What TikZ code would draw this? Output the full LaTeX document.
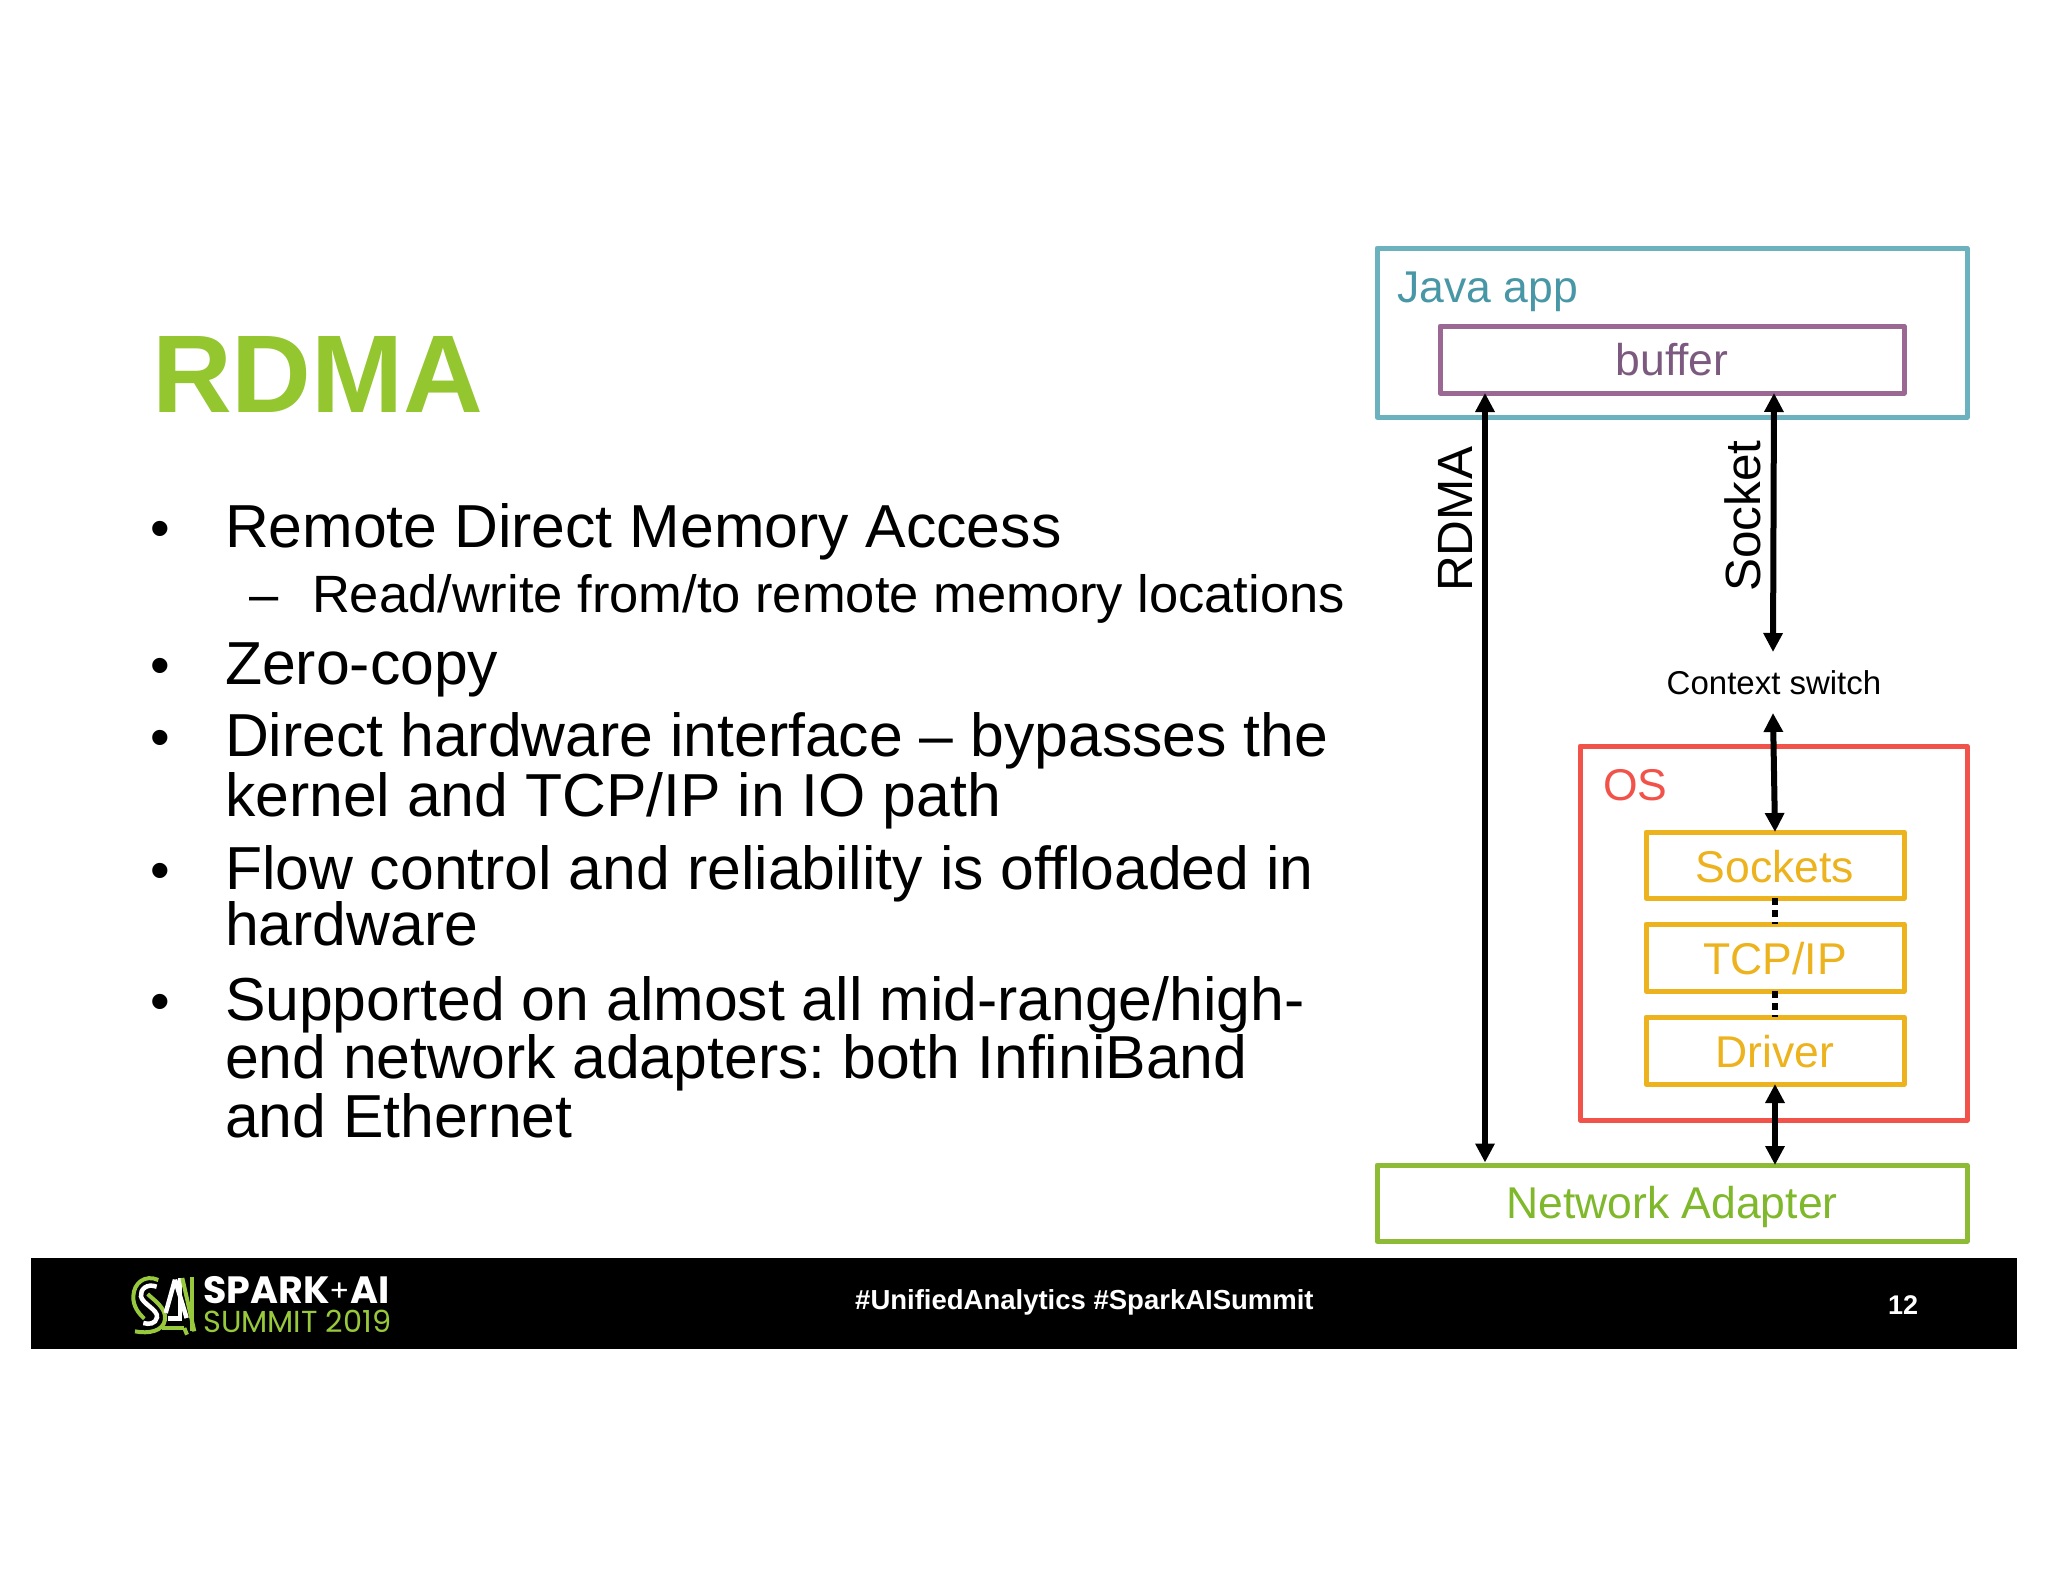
\documentclass[tikz,border=0pt]{standalone}
\usepackage{fontspec}
\setmainfont{Liberation Sans}
\newfontfamily\logofont{Poppins}
\usetikzlibrary{arrows.meta}
\definecolor{tealbox}{HTML}{6BB1BE}
\definecolor{tealtxt}{HTML}{4797A6}
\definecolor{purpbox}{HTML}{9B6894}
\definecolor{purptxt}{HTML}{7C5A80}
\definecolor{redbox}{HTML}{F1524A}
\definecolor{yelbox}{HTML}{EDB31E}
\definecolor{grnbox}{HTML}{8DBB36}
\definecolor{grntxt}{HTML}{80B82C}
\definecolor{titlegrn}{HTML}{93C62F}
\definecolor{logogrn}{HTML}{98C93C}
\newcommand{\fs}[1]{\fontsize{#1}{#1}\selectfont}
\newcommand{\boxtxt}[2]{\raisebox{-#1pt}[0pt][0pt]{\fs{44.5}#2}}
\frenchspacing
\tikzset{
  x=1pt,y=-1pt,
  box/.style={draw=#1,rectangle,line width=5pt,line join=round,inner sep=0pt,outer sep=0pt,anchor=north west,align=center},
  bodytext/.style={anchor=base west,inner sep=0pt,outer sep=0pt,text=black},
  bullettext/.style={bodytext,font=\fs{60.7}},
  subtext/.style={bodytext,font=\fs{52.5}},
  bi/.style={draw=black,line width=6pt,{Triangle[length=19pt,width=18.5pt]}-{Triangle[length=19pt,width=18.5pt]}},
  dots/.style={draw=black,line width=6pt,dash pattern=on 7pt off 5pt},
  logoG/.style={draw=logogrn,line width=4pt,line cap=butt},
  logoW/.style={draw=white,line width=4.5pt,line cap=butt},
}
\begin{document}
\begin{tikzpicture}
\useasboundingbox[fill=white] (0,0) rectangle (2048,1582);
% footer
\fill[black] (31,1258) rectangle (2017,1349);
% title
\node[bodytext,font=\fs{110.5}\bfseries,text=titlegrn] (title) at (152,412) {RDMA};
% bullets
\node[bodytext,font=\fs{56}] (b1) at (150,547) {•};
\node[bullettext] (t1) at (225,547.5) {Remote Direct Memory Access};
\node[subtext] (d1) at (249,612) {–};
\node[subtext] (t2) at (312,612) {Read/write from/to remote memory locations};
\node[bodytext,font=\fs{56}] (b2) at (150,684) {•};
\node[bullettext] (t3) at (225,684.5) {Zero-copy};
\node[bodytext,font=\fs{56}] (b3) at (150,756) {•};
\node[bullettext] (t4) at (225,756.5) {Direct hardware interface – bypasses the};
\node[bullettext] (t5) at (225,816.5) {kernel and TCP/IP in IO path};
\node[bodytext,font=\fs{56}] (b4) at (150,889) {•};
\node[bullettext] (t6) at (225,889) {Flow control and reliability is offloaded in};
\node[bullettext] (t7) at (225,945) {hardware};
\node[bodytext,font=\fs{56}] (b5) at (150,1020) {•};
\node[bullettext] (t8) at (225,1020.5) {Supported on almost all mid-range/high-};
\node[bullettext] (t9) at (225,1078) {end network adapters: both InfiniBand};
\node[bullettext] (t10) at (225,1137) {and Ethernet};
% boxes
\node[box=tealbox,minimum width=590pt,minimum height=169pt] (java) at (1377,248) {};
\node[anchor=base west,inner sep=0pt,text=tealtxt,font=\fs{44.5}] (javal) at (1397,302) {Java app};
\node[box=purpbox,minimum width=464pt,minimum height=67pt,text=purptxt] (buffer) at (1440,326) {\boxtxt{16}{buffer}};
\node[box=redbox,minimum width=387pt,minimum height=374pt] (os) at (1580,746) {};
\node[anchor=base west,inner sep=0pt,text=redbox,font=\fs{44.5}] (osl) at (1603,800) {OS};
\node[box=yelbox,minimum width=258pt,minimum height=66pt,text=yelbox] (sockets) at (1646,832) {\boxtxt{17}{Sockets}};
\node[box=yelbox,minimum width=258pt,minimum height=67pt,text=yelbox] (tcp) at (1646,924) {\boxtxt{17}{TCP/IP}};
\node[box=yelbox,minimum width=258pt,minimum height=67pt,text=yelbox] (driver) at (1646,1017) {\boxtxt{17}{Driver}};
\node[box=grnbox,minimum width=590pt,minimum height=76pt,text=grntxt] (net) at (1377,1165) {\boxtxt{15.5}{Network Adapter}};
\node[inner sep=0pt,font=\fs{33}] (ctx) at (1774,683) {Context switch};
% connector columns
\coordinate (rx) at (1485,0);
\coordinate (sx) at (1774,0);
\coordinate (sctop) at (1773,652);
\coordinate (scbot) at (1773,713);
\draw[dots] (sockets.south) -- (tcp.north);
\draw[dots] (tcp.south) -- (driver.north);
\draw[bi] (buffer.south -| rx) -- ([yshift=2.5pt]net.north -| rx);
\draw[bi] (buffer.south -| sx) -- (sctop);
\draw[bi] (scbot) -- (sockets.north);
\draw[bi] (driver.south) -- (net.north -| driver.south);
% rotated labels
\node[rotate=90,anchor=base west,inner sep=0pt,font=\fs{49.5}] (rl) at (1472,592) {RDMA};
\node[rotate=90,anchor=base west,inner sep=0pt,font=\fs{49.5}] (sl) at (1760,592) {Socket};
% footer text
\node[inner sep=0pt,anchor=base west,text=white,font=\fs{27.5}\bfseries] (tags) at (855,1309) {\#UnifiedAnalytics \#SparkAISummit};
\node[inner sep=0pt,text=white,font=\fs{27}\bfseries] (page) at (1903,1305) {12};
% logo
\begin{scope}[shift={(125,1268)},x=0.3333pt,y=-0.3333pt]
\draw[logoG] (100,36) .. controls (60,18) and (26,45) .. (25,85) .. controls (24,115) and (40,135) .. (58,152);
\draw[logoG] (68,78) .. controls (85,95) and (125,120) .. (120,155) .. controls (115,190) and (70,198) .. (30,190);
\draw[logoW] (95,56) .. controls (65,45) and (45,65) .. (48,85) .. controls (52,108) and (100,125) .. (96,148) .. controls (92,168) and (72,170) .. (55,165);
\draw[logoW] (150,35) -- (122,135);
\draw[logoW] (165,30) -- (165,150);
\draw[logoW] (150,35) -- (185,150);
\draw[logoW] (128,152) -- (170,152);
\draw[logoG] (112,180) -- (178,180);
\draw[logoG] (178,180) -- (186,200);
\draw[logoG] (172,30) -- (208,190);
\draw[logoG] (202,28) -- (202,190);
\end{scope}
\node[inner sep=0pt,anchor=base west,text=white,font=\logofont\fs{38}\bfseries] (spark) at (203,1303) {SPARK{\mdseries\fs{30}\raisebox{2pt}{+}}AI};
\node[inner sep=0pt,anchor=base west,text=logogrn,font=\logofont\fs{30.4}] (summit) at (203,1332) {SUMMIT 2019};
\end{tikzpicture}
\end{document}
